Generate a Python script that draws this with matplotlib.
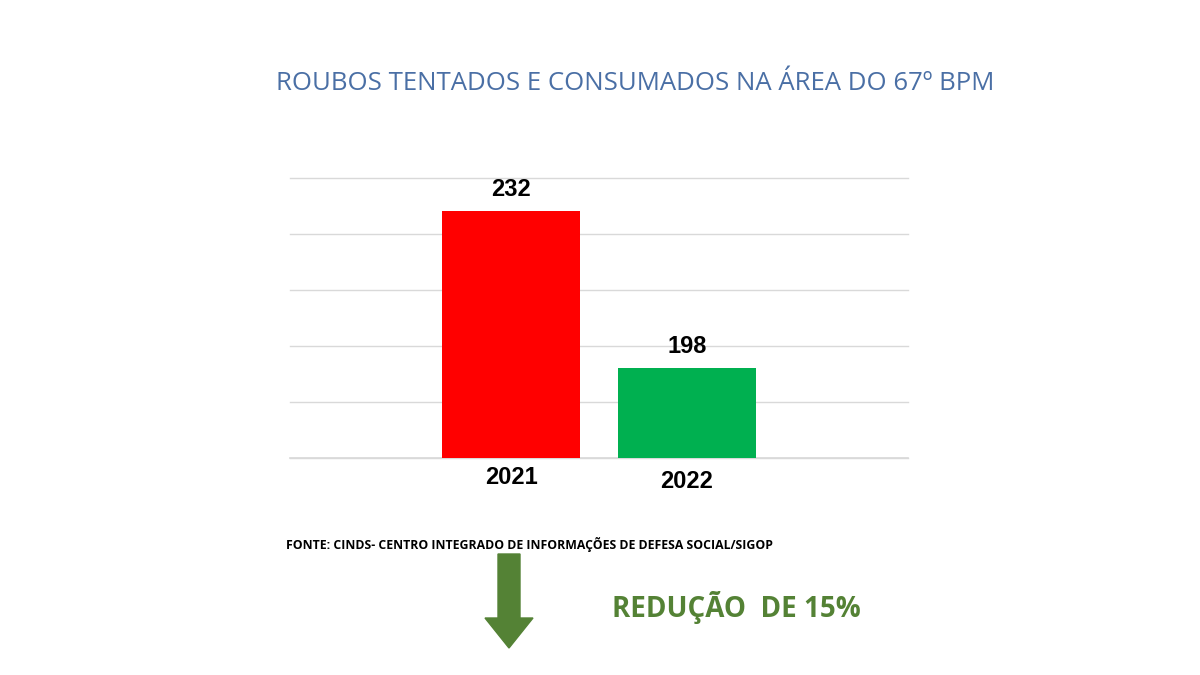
import matplotlib
matplotlib.use("Agg")
import matplotlib.pyplot as plt
import numpy as np

categories = ["2021", "2022"]
values = [232, 198]
colors = ["#FF0000", "#00B050"]

fig = plt.figure(figsize=(12, 6.75), dpi=100)
W, H = 1200, 675
ax = fig.add_axes([290/W, 1-458/H, 618/W, 280/H])
x = np.arange(len(categories))
ax.bar(x, values, width=0.78, color=colors, zorder=3)
ymin, ymax = 178.5, 239.1
ax.set_ylim(ymin, ymax)
ax.set_xlim(-1.256, 2.256)
ax.set_yticks(np.linspace(ymin, ymax, 6))
ax.yaxis.grid(True, color="#D9D9D9", lw=1, zorder=0, clip_on=False)
ax.axhline(ymin, color="#D9D9D9", lw=1.2, zorder=1, clip_on=False)
ax.set_yticklabels([])
ax.tick_params(length=0)
for s in ax.spines.values():
    s.set_visible(False)
ax.set_xticks([])
for xi, v in zip(x, values):
    ax.text(xi, v + 2.2, str(v), ha="center", va="bottom", fontsize=17, fontweight="bold", family="Liberation Sans")
ax.text(0, ymin - 1.8, categories[0], ha="center", va="top", fontsize=17, fontweight="bold", family="Liberation Sans")
ax.text(1, ymin - 2.6, categories[1], ha="center", va="top", fontsize=17, fontweight="bold", family="Liberation Sans")

fig.text(635/W, 1-84/H, "ROUBOS TENTADOS E CONSUMADOS NA ÁREA DO 67º BPM", ha="center", va="center",
         fontsize=18.5, color="#4A6FA5", family="Open Sans")
fig.text(286/W, 1-545/H, "FONTE: CINDS- CENTRO INTEGRADO DE INFORMAÇÕES DE DEFESA SOCIAL/SIGOP", ha="left", va="center",
         fontsize=8.8, fontweight="bold", family="Open Sans")
fig.text(612/W, 1-608/H, "REDUÇÃO  DE 15%", ha="left", va="center", fontsize=20, fontweight="bold",
         color="#548235", family="Open Sans")
fig.patches.append(matplotlib.patches.FancyArrow(509/W, 1-554/H, 0, -94/H, width=22/W, head_width=48/W,
                   head_length=30/H, length_includes_head=True, color="#548235", transform=fig.transFigure))
fig.savefig("out.png", dpi=100, facecolor="white")
